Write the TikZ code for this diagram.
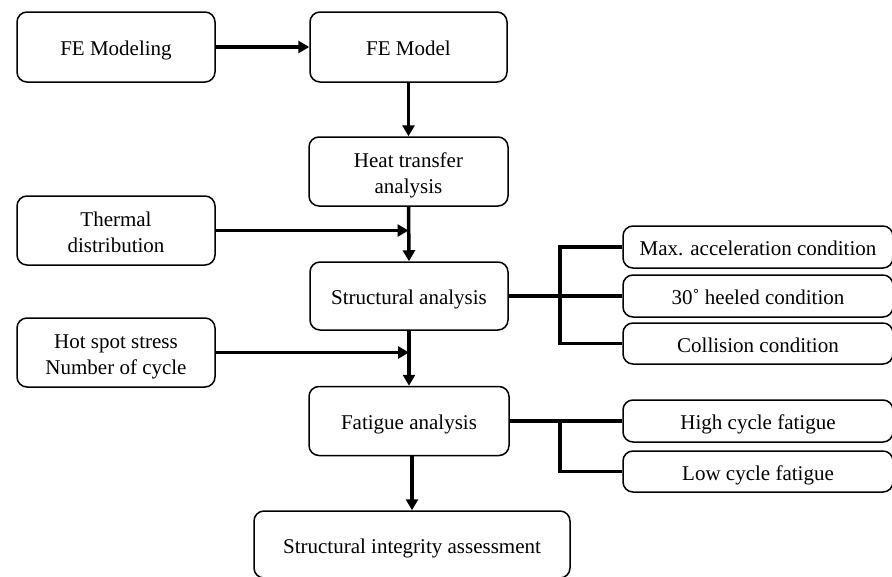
\documentclass[tikz,border=0pt]{standalone}
\usepackage{fontspec}
\setmainfont{Liberation Serif}
\usetikzlibrary{arrows.meta}
\begin{document}
\begin{tikzpicture}[x=1pt,y=-1pt,
  box/.style={draw, line width=1.5pt, rounded corners=10pt, inner sep=0pt, align=center,
    font=\fontsize{21}{26}\selectfont},
  one/.style={text height=17pt, text depth=0pt},
  two/.style={text height=43pt, text depth=0pt},
  arr/.style={line width=3.5pt, -{Triangle[length=11pt,width=12pt]}},
  lnk/.style={line width=3.5pt}]
\useasboundingbox (0,0) rectangle (892,576);
\node[box, one, minimum width=198pt, minimum height=70pt] (fem) at (116,47) {FE Modeling};
\node[box, one, minimum width=197pt, minimum height=70pt] (fe) at (408.5,47) {FE Model};
\node[box, two, minimum width=199pt, minimum height=69pt] (heat) at (408.5,171.5) {Heat transfer\\analysis};
\node[box, two, minimum width=198pt, minimum height=69pt] (therm) at (116,230.5) {Thermal\\distribution};
\node[box, one, minimum width=198pt, minimum height=68pt] (struct) at (409,296) {Structural analysis};
\node[box, two, minimum width=198pt, minimum height=69pt] (hot) at (116,352.5) {Hot spot stress\\Number of cycle};
\node[box, one, minimum width=200pt, minimum height=69pt] (fat) at (409,421) {Fatigue analysis};
\node[box, one, minimum width=316pt, minimum height=67pt] (sia) at (412,544.5) {Structural integrity assessment};
\node[box, one, minimum width=270pt, minimum height=42pt] (maxa) at (758,247) {Max. acceleration condition};
\node[box, one, minimum width=270pt, minimum height=42pt] (heel) at (758,296) {30˚ heeled condition};
\node[box, one, minimum width=270pt, minimum height=41pt] (coll) at (758,343.5) {Collision condition};
\node[box, one, minimum width=270pt, minimum height=42pt] (high) at (758,421) {High cycle fatigue};
\node[box, one, minimum width=270pt, minimum height=41pt] (low) at (758,471.5) {Low cycle fatigue};
\coordinate (j1) at (408.5,230.5);
\coordinate (j2) at (409,352.5);
\coordinate (b1) at (560,296);
\coordinate (b2) at (560,421);
\draw[arr] (fem.east) -- (fe.west);
\draw[arr] (fe.south) -- (heat.north);
\draw[arr] (heat.south) -- (struct.north);
\draw[arr] (therm.east) -- (j1);
\draw[arr] (struct.south) -- (fat.north);
\draw[arr] (hot.east) -- (j2);
\draw[arr] (412,455.5) -- (sia.north);
\draw[lnk] (struct.east) -- (heel.west);
\draw[lnk] (maxa.west) -| (b1) |- (coll.west);
\draw[lnk] (fat.east) -- (high.west);
\draw[lnk] (b2) |- (low.west);
\end{tikzpicture}
\end{document}
